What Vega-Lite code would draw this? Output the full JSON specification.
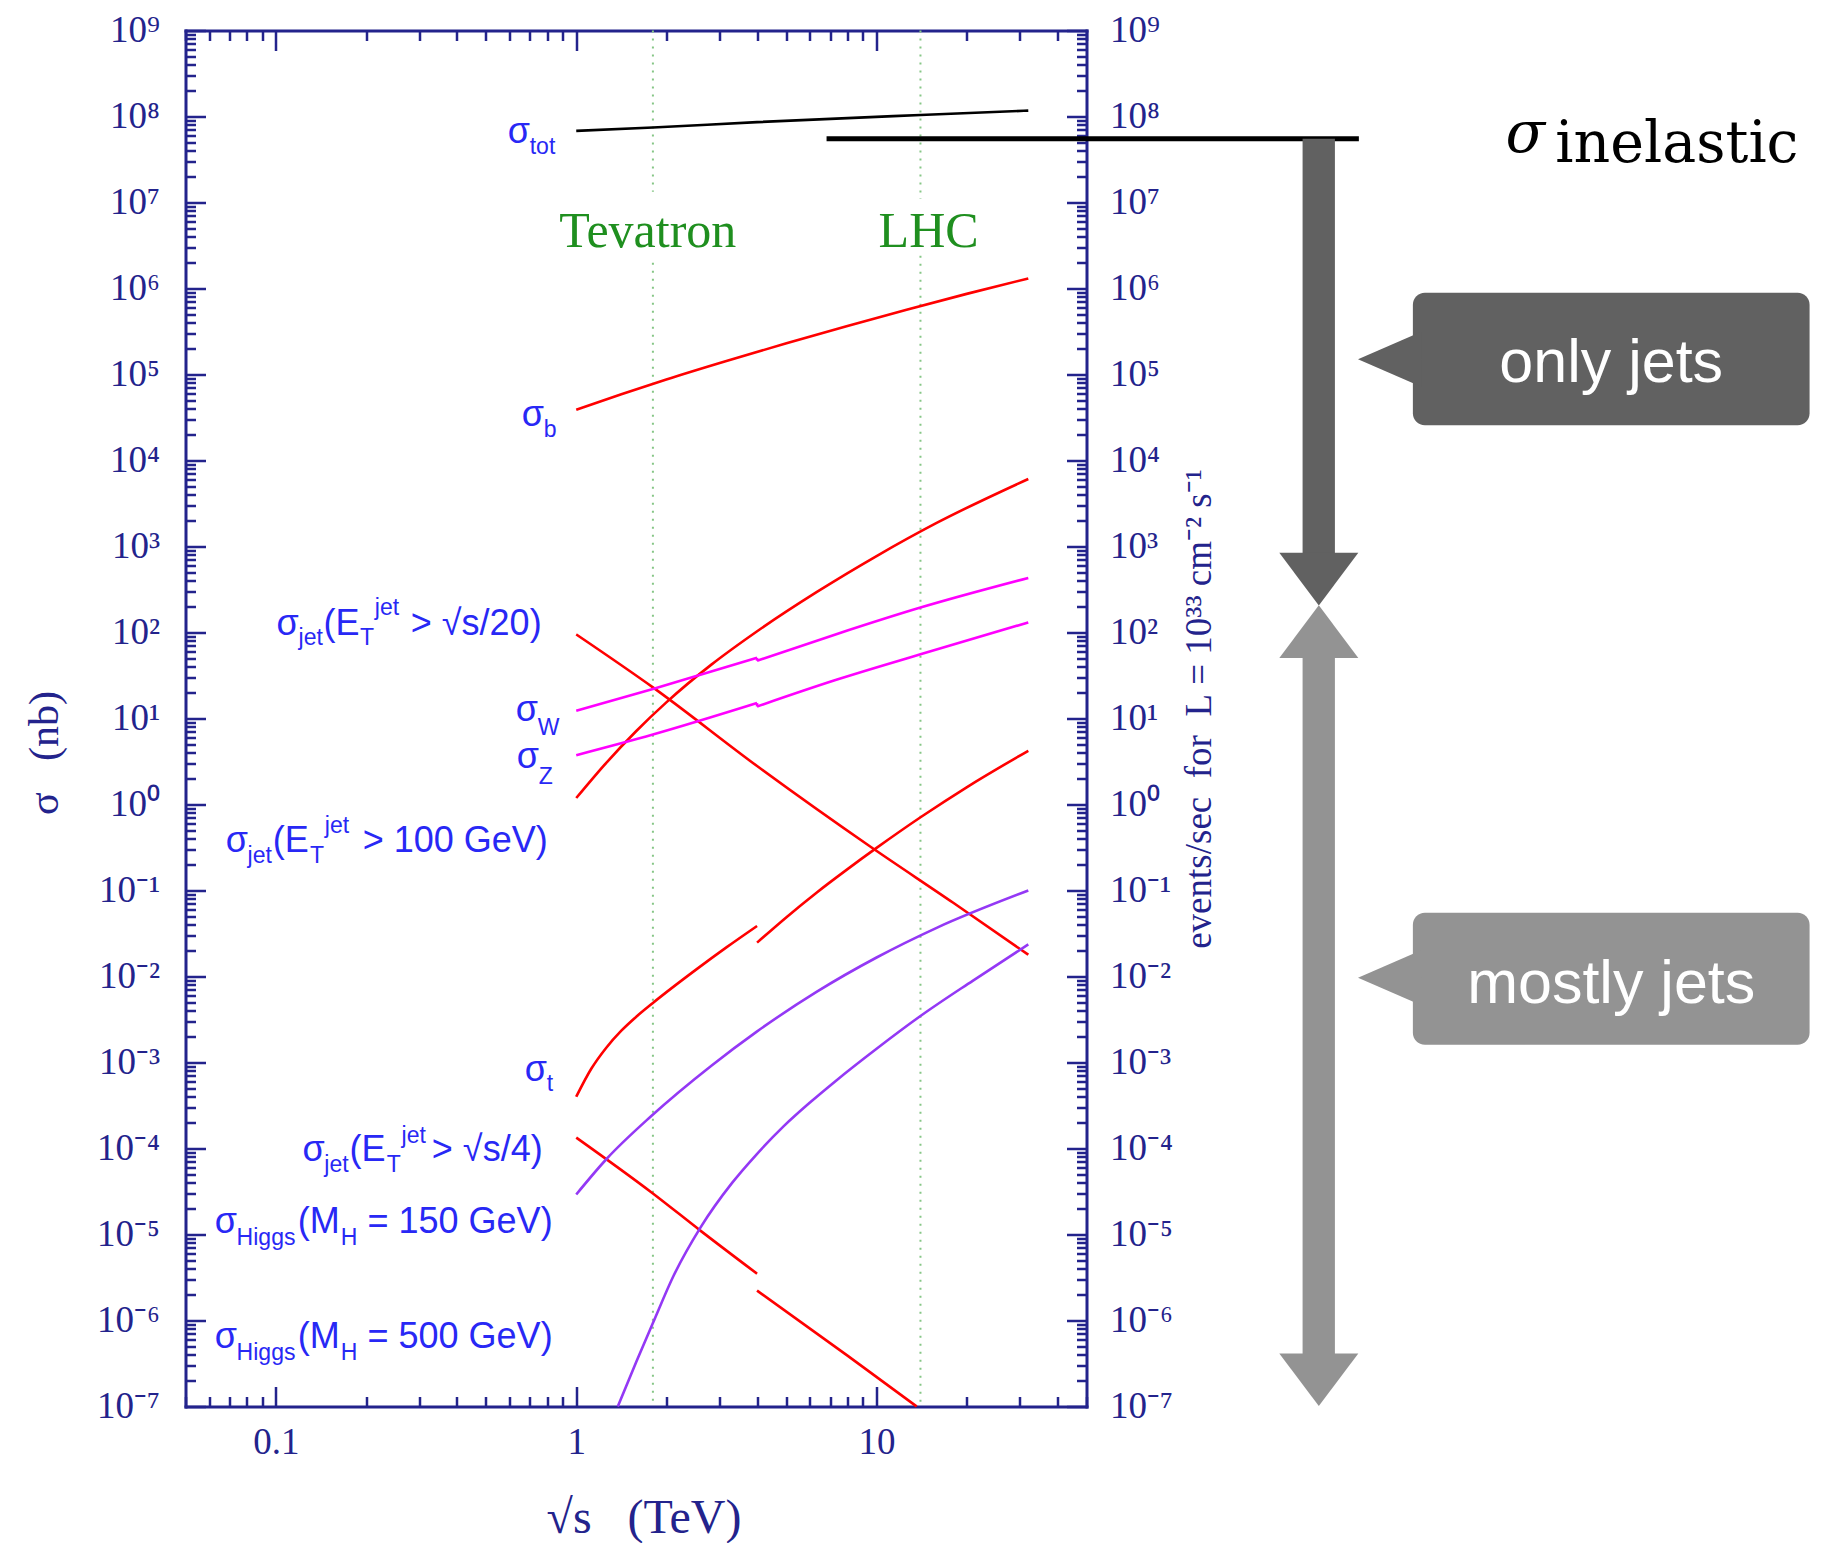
{
  "$schema": "https://vega.github.io/schema/vega-lite/v6.json",
  "width": 901,
  "height": 1376,
  "autosize": {"type": "none"},
  "padding": {"left": 185.5, "top": 30.5, "right": 739.5, "bottom": 136.5},
  "background": "#ffffff",
  "config": {
    "view": {"stroke": null},
    "axis": {
      "grid": false,
      "domainColor": "#23238c",
      "domainWidth": 3,
      "domainCap": "square",
      "tickColor": "#23238c",
      "tickWidth": 2.5,
      "labelColor": "#23238c",
      "labelFont": "Liberation Serif",
      "labelFontSize": 37,
      "labelOverlap": false,
      "labelFlush": false,
      "titleColor": "#23238c",
      "titleFont": "Liberation Serif",
      "titleFontWeight": "normal"
    }
  },
  "datasets": {
    "curves": [
      {"s": "tot", "k": "black", "x": 1, "y": 6.8e7, "i": 0},
      {"s": "tot", "k": "black", "x": 1.8, "y": 7.45e7, "i": 1},
      {"s": "tot", "k": "black", "x": 4, "y": 8.6e7, "i": 2},
      {"s": "tot", "k": "black", "x": 14, "y": 1.04e8, "i": 3},
      {"s": "tot", "k": "black", "x": 32, "y": 1.17e8, "i": 4},
      {"s": "b", "k": "red", "x": 1, "y": 3.89e4, "i": 5},
      {"s": "b", "k": "red", "x": 1.413, "y": 5.89e4, "i": 6},
      {"s": "b", "k": "red", "x": 1.995, "y": 8.76e4, "i": 7},
      {"s": "b", "k": "red", "x": 3.162, "y": 1.437e5, "i": 8},
      {"s": "b", "k": "red", "x": 5.012, "y": 2.304e5, "i": 9},
      {"s": "b", "k": "red", "x": 7.943, "y": 3.636e5, "i": 10},
      {"s": "b", "k": "red", "x": 12.59, "y": 5.655e5, "i": 11},
      {"s": "b", "k": "red", "x": 19.95, "y": 8.66e5, "i": 12},
      {"s": "b", "k": "red", "x": 32, "y": 1.31e6, "i": 13},
      {"s": "j20", "k": "red", "x": 1, "y": 95, "i": 14},
      {"s": "j20", "k": "red", "x": 1.8, "y": 23, "i": 15},
      {"s": "j20", "k": "red", "x": 4, "y": 2.8, "i": 16},
      {"s": "j20", "k": "red", "x": 9.6, "y": 0.318, "i": 17},
      {"s": "j20", "k": "red", "x": 18, "y": 0.072, "i": 18},
      {"s": "j20", "k": "red", "x": 32, "y": 0.0179, "i": 19},
      {"s": "j100", "k": "red", "x": 1, "y": 1.189, "i": 20},
      {"s": "j100", "k": "red", "x": 1.259, "y": 3.055, "i": 21},
      {"s": "j100", "k": "red", "x": 1.585, "y": 7.16, "i": 22},
      {"s": "j100", "k": "red", "x": 1.995, "y": 15.4, "i": 23},
      {"s": "j100", "k": "red", "x": 2.818, "y": 42.3, "i": 24},
      {"s": "j100", "k": "red", "x": 3.981, "y": 102.1, "i": 25},
      {"s": "j100", "k": "red", "x": 6.31, "y": 294.4, "i": 26},
      {"s": "j100", "k": "red", "x": 10, "y": 774.5, "i": 27},
      {"s": "j100", "k": "red", "x": 15.85, "y": 1879, "i": 28},
      {"s": "j100", "k": "red", "x": 32, "y": 6100, "i": 29},
      {"s": "W1", "k": "magenta", "x": 1, "y": 12.3, "i": 30},
      {"s": "W1", "k": "magenta", "x": 1.8, "y": 22, "i": 31},
      {"s": "W1", "k": "magenta", "x": 4, "y": 50.7, "i": 32},
      {"s": "W2", "k": "magenta", "x": 4, "y": 47, "i": 33},
      {"s": "W2", "k": "magenta", "x": 7.3, "y": 95, "i": 34},
      {"s": "W2", "k": "magenta", "x": 14, "y": 195, "i": 35},
      {"s": "W2", "k": "magenta", "x": 32, "y": 431, "i": 36},
      {"s": "Z1", "k": "magenta", "x": 1, "y": 3.74, "i": 37},
      {"s": "Z1", "k": "magenta", "x": 1.8, "y": 6.5, "i": 38},
      {"s": "Z1", "k": "magenta", "x": 4, "y": 15.1, "i": 39},
      {"s": "Z2", "k": "magenta", "x": 4, "y": 13.8, "i": 40},
      {"s": "Z2", "k": "magenta", "x": 7.3, "y": 28, "i": 41},
      {"s": "Z2", "k": "magenta", "x": 14, "y": 55.8, "i": 42},
      {"s": "Z2", "k": "magenta", "x": 32, "y": 131, "i": 43},
      {"s": "t1", "k": "red", "x": 1, "y": 4.0e-4, "i": 44},
      {"s": "t1", "k": "red", "x": 1.122, "y": 8.45e-4, "i": 45},
      {"s": "t1", "k": "red", "x": 1.259, "y": 1.486e-3, "i": 46},
      {"s": "t1", "k": "red", "x": 1.413, "y": 2.344e-3, "i": 47},
      {"s": "t1", "k": "red", "x": 1.585, "y": 3.41e-3, "i": 48},
      {"s": "t1", "k": "red", "x": 1.8, "y": 4.93e-3, "i": 49},
      {"s": "t1", "k": "red", "x": 2.512, "y": 0.0121, "i": 50},
      {"s": "t1", "k": "red", "x": 3.162, "y": 0.0218, "i": 51},
      {"s": "t1", "k": "red", "x": 4, "y": 0.0387, "i": 52},
      {"s": "t2", "k": "red", "x": 4, "y": 0.02477, "i": 53},
      {"s": "t2", "k": "red", "x": 5.012, "y": 0.049, "i": 54},
      {"s": "t2", "k": "red", "x": 6.31, "y": 0.0944, "i": 55},
      {"s": "t2", "k": "red", "x": 7.943, "y": 0.1738, "i": 56},
      {"s": "t2", "k": "red", "x": 10, "y": 0.3126, "i": 57},
      {"s": "t2", "k": "red", "x": 14.13, "y": 0.7244, "i": 58},
      {"s": "t2", "k": "red", "x": 19.95, "y": 1.585, "i": 59},
      {"s": "t2", "k": "red", "x": 32, "y": 4.217, "i": 60},
      {"s": "j4a", "k": "red", "x": 1, "y": 1.34e-4, "i": 61},
      {"s": "j4a", "k": "red", "x": 1.8, "y": 3.0e-5, "i": 62},
      {"s": "j4a", "k": "red", "x": 2.59, "y": 1.11e-5, "i": 63},
      {"s": "j4a", "k": "red", "x": 4, "y": 3.5e-6, "i": 64},
      {"s": "j4b", "k": "red", "x": 4, "y": 2.23e-6, "i": 65},
      {"s": "j4b", "k": "red", "x": 8, "y": 3.9e-7, "i": 66},
      {"s": "j4b", "k": "red", "x": 13.6, "y": 1e-7, "i": 67},
      {"s": "h150", "k": "purple", "x": 1, "y": 2.92e-5, "i": 68},
      {"s": "h150", "k": "purple", "x": 1.259, "y": 7.5e-5, "i": 69},
      {"s": "h150", "k": "purple", "x": 1.778, "y": 2.385e-4, "i": 70},
      {"s": "h150", "k": "purple", "x": 2.818, "y": 9.17e-4, "i": 71},
      {"s": "h150", "k": "purple", "x": 3.981, "y": 2.27e-3, "i": 72},
      {"s": "h150", "k": "purple", "x": 6.31, "y": 6.62e-3, "i": 73},
      {"s": "h150", "k": "purple", "x": 10, "y": 0.01663, "i": 74},
      {"s": "h150", "k": "purple", "x": 15.85, "y": 0.0368, "i": 75},
      {"s": "h150", "k": "purple", "x": 32, "y": 0.1, "i": 76},
      {"s": "h500", "k": "purple", "x": 1.375, "y": 1e-7, "i": 77},
      {"s": "h500", "k": "purple", "x": 1.585, "y": 3.31e-7, "i": 78},
      {"s": "h500", "k": "purple", "x": 1.8, "y": 9.33e-7, "i": 79},
      {"s": "h500", "k": "purple", "x": 2.109, "y": 3.31e-6, "i": 80},
      {"s": "h500", "k": "purple", "x": 2.591, "y": 1.202e-5, "i": 81},
      {"s": "h500", "k": "purple", "x": 3.303, "y": 3.98e-5, "i": 82},
      {"s": "h500", "k": "purple", "x": 3.981, "y": 8.51e-5, "i": 83},
      {"s": "h500", "k": "purple", "x": 4.909, "y": 1.82e-4, "i": 84},
      {"s": "h500", "k": "purple", "x": 6.026, "y": 3.47e-4, "i": 85},
      {"s": "h500", "k": "purple", "x": 7.278, "y": 6.03e-4, "i": 86},
      {"s": "h500", "k": "purple", "x": 10, "y": 1.445e-3, "i": 87},
      {"s": "h500", "k": "purple", "x": 14, "y": 3.47e-3, "i": 88},
      {"s": "h500", "k": "purple", "x": 20.89, "y": 8.91e-3, "i": 89},
      {"s": "h500", "k": "purple", "x": 32, "y": 0.0236, "i": 90}
    ],
    "steps": [
      {"x": 4, "y": 50.7, "y2": 47},
      {"x": 4, "y": 15.1, "y2": 13.8}
    ],
    "machines": [
      {"m": "Tevatron", "x": 1.8, "y": 1e9, "y2": 1.33e7},
      {"m": "Tevatron", "x": 1.8, "y": 1.99e6, "y2": 1e-7},
      {"m": "LHC", "x": 14, "y": 1e9, "y2": 1.10e7},
      {"m": "LHC", "x": 14, "y": 2.40e6, "y2": 1e-7}
    ],
    "mlabels": [
      {"t": "Tevatron", "x": 1.731, "y": 3.014e6},
      {"t": "LHC", "x": 14.9, "y": 3.014e6}
    ],
    "labels": [
      {"t": "σ", "p": "m", "x": 0.5916, "y": 4.866e7},
      {"t": "tot", "p": "sub", "x": 0.6999, "y": 3.654e7},
      {"t": "σ", "p": "m", "x": 0.6584, "y": 2.545e4},
      {"t": "b", "p": "sub", "x": 0.7788, "y": 1.856e4},
      {"t": "σ", "p": "m", "x": 0.1005, "y": 94.03},
      {"t": "jet", "p": "sub", "x": 0.1190, "y": 71.94},
      {"t": "(E", "p": "m", "x": 0.1440, "y": 94.03},
      {"t": "T", "p": "sub", "x": 0.1905, "y": 71.94},
      {"t": "jet", "p": "sup", "x": 0.2135, "y": 160.6},
      {"t": "> √s/20)", "p": "e", "x": 0.7670, "y": 94.03},
      {"t": "σ", "p": "m", "x": 0.6288, "y": 9.229},
      {"t": "W", "p": "sub", "x": 0.7438, "y": 6.464},
      {"t": "σ", "p": "m", "x": 0.6336, "y": 2.651},
      {"t": "Z", "p": "sub", "x": 0.7495, "y": 1.741},
      {"t": "σ", "p": "m", "x": 0.06805, "y": 0.2841},
      {"t": "jet", "p": "sub", "x": 0.08049, "y": 0.2083},
      {"t": "(E", "p": "m", "x": 0.09765, "y": 0.2841},
      {"t": "T", "p": "sub", "x": 0.12975, "y": 0.2083},
      {"t": "jet", "p": "sup", "x": 0.14555, "y": 0.4650},
      {"t": "> 100 GeV)", "p": "e", "x": 0.8040, "y": 0.2841},
      {"t": "σ", "p": "m", "x": 0.6736, "y": 6.127e-4},
      {"t": "t", "p": "sub", "x": 0.7969, "y": 4.688e-4},
      {"t": "σ", "p": "m", "x": 0.1225, "y": 7.062e-5},
      {"t": "jet", "p": "sub", "x": 0.1450, "y": 5.402e-5},
      {"t": "(E", "p": "m", "x": 0.17587, "y": 7.062e-5},
      {"t": "T", "p": "sub", "x": 0.23373, "y": 5.402e-5},
      {"t": "jet", "p": "sup", "x": 0.26216, "y": 1.156e-4},
      {"t": "> √s/4)", "p": "e", "x": 0.7729, "y": 7.062e-5},
      {"t": "σ", "p": "m", "x": 0.06255, "y": 1.038e-5},
      {"t": "Higgs", "p": "sub", "x": 0.07399, "y": 7.590e-6},
      {"t": "(M", "p": "m", "x": 0.11823, "y": 1.038e-5},
      {"t": "H", "p": "sub", "x": 0.16447, "y": 7.590e-6},
      {"t": "= 150 GeV)", "p": "e", "x": 0.8344, "y": 1.038e-5},
      {"t": "σ", "p": "m", "x": 0.06255, "y": 4.778e-7},
      {"t": "Higgs", "p": "sub", "x": 0.07399, "y": 3.491e-7},
      {"t": "(M", "p": "m", "x": 0.11823, "y": 4.778e-7},
      {"t": "H", "p": "sub", "x": 0.16447, "y": 3.491e-7},
      {"t": "= 500 GeV)", "p": "e", "x": 0.8344, "y": 4.778e-7}
    ],
    "shafts": [
      {"tone": "dark", "x": 262.1, "x2": 335.8, "y": 5.504e7, "y2": 800.8},
      {"tone": "light", "x": 262.1, "x2": 335.8, "y": 53.6, "y2": 3.886e-7}
    ],
    "heads": [
      {"tone": "dark", "dir": "down", "x": 296.8, "y": 417.8},
      {"tone": "light", "dir": "up", "x": 296.8, "y": 102.4},
      {"tone": "light", "dir": "down", "x": 296.8, "y": 2.045e-7}
    ],
    "boxes": [
      {"tone": "dark", "x": 610.5, "x2": 12781, "y": 8.913e5, "y2": 2.567e4},
      {"tone": "light", "x": 610.5, "x2": 12781, "y": 0.05504, "y2": 1.606e-3}
    ],
    "pointers": [
      {"tone": "dark", "x": 494.9, "y": 1.502e5},
      {"tone": "light", "x": 494.9, "y": 9.658e-3}
    ],
    "ctext": [
      {"t": "only jets", "x": 2793, "y": 8.29e4},
      {"t": "mostly jets", "x": 2793, "y": 4.984e-3}
    ]
  },
  "resolve": {"axis": {"x": "independent", "y": "independent"}},
  "layer": [
    {
      "data": {"name": "machines"},
      "mark": {"type": "rule", "color": "#86c686", "strokeWidth": 2, "strokeDash": [2, 6]},
      "encoding": {
        "x": {"field": "x", "type": "quantitative", "scale": {"type": "log", "domain": [0.05, 50], "nice": false},
          "axis": {"orient": "top", "values": [0.05,0.06,0.07,0.08,0.09,0.1,0.2,0.3,0.4,0.5,0.6,0.7,0.8,0.9,1,2,3,4,5,6,7,8,9,10,20,30,40,50],
            "labels": false, "title": null,
            "tickSize": {"condition": {"test": "abs(log(datum.value)/LN10 - round(log(datum.value)/LN10)) < 0.001", "value": -20}, "value": -10}}},
        "y": {"field": "y", "type": "quantitative", "scale": {"type": "log", "domain": [1e-7, 1e9], "nice": false},
          "axis": {"orient": "right",
            "values": [1e-7,2e-7,3e-7,4e-7,5e-7,6e-7,7e-7,8e-7,9e-7,1e-6,2e-6,3e-6,4e-6,5e-6,6e-6,7e-6,8e-6,9e-6,1e-5,2e-5,3e-5,4e-5,5e-5,6e-5,7e-5,8e-5,9e-5,1e-4,2e-4,3e-4,4e-4,5e-4,6e-4,7e-4,8e-4,9e-4,0.001,0.002,0.003,0.004,0.005,0.006,0.007,0.008,0.009,0.01,0.02,0.03,0.04,0.05,0.06,0.07,0.08,0.09,0.1,0.2,0.3,0.4,0.5,0.6,0.7,0.8,0.9,1,2,3,4,5,6,7,8,9,10,20,30,40,50,60,70,80,90,100,200,300,400,500,600,700,800,900,1000,2000,3000,4000,5000,6000,7000,8000,9000,1e4,2e4,3e4,4e4,5e4,6e4,7e4,8e4,9e4,1e5,2e5,3e5,4e5,5e5,6e5,7e5,8e5,9e5,1e6,2e6,3e6,4e6,5e6,6e6,7e6,8e6,9e6,1e7,2e7,3e7,4e7,5e7,6e7,7e7,8e7,9e7,1e8,2e8,3e8,4e8,5e8,6e8,7e8,8e8,9e8,1e9],
            "labelExpr": "abs(log(datum.value)/LN10 - round(log(datum.value)/LN10)) < 0.001 ? '10' + ['⁻⁷','⁻⁶','⁻⁵','⁻⁴','⁻³','⁻²','⁻¹','⁰','¹','²','³','⁴','⁵','⁶','⁷','⁸','⁹'][round(log(datum.value)/LN10) + 7] : ''",
            "tickSize": {"condition": {"test": "abs(log(datum.value)/LN10 - round(log(datum.value)/LN10)) < 0.001", "value": -20}, "value": -10},
            "labelPadding": 43,
            "title": "events/sec\u00a0\u00a0for\u00a0\u00a0L\u00a0=\u00a010³³\u00a0cm⁻²\u00a0s⁻¹",
            "titleFontSize": 37, "titleAngle": 270, "titleX": 124, "titleY": 678,
            "titleAlign": "center", "titleBaseline": "alphabetic"}},
        "y2": {"field": "y2"}
      }
    },
    {
      "data": {"name": "curves"},
      "mark": {"type": "line", "strokeWidth": 2.6, "interpolate": "monotone"},
      "encoding": {
        "x": {"field": "x", "type": "quantitative", "scale": {"type": "log", "domain": [0.05, 50], "nice": false},
          "axis": {"orient": "bottom", "values": [0.05,0.06,0.07,0.08,0.09,0.1,0.2,0.3,0.4,0.5,0.6,0.7,0.8,0.9,1,2,3,4,5,6,7,8,9,10,20,30,40,50],
            "labelExpr": "datum.value == 0.1 ? '0.1' : datum.value == 1 ? '1' : datum.value == 10 ? '10' : ''",
            "tickSize": {"condition": {"test": "abs(log(datum.value)/LN10 - round(log(datum.value)/LN10)) < 0.001", "value": -20}, "value": -10},
            "labelPadding": 38,
            "title": "√s\u00a0\u00a0\u00a0(TeV)", "titleFontSize": 48, "titleX": 458, "titleY": 126,
            "titleAlign": "center", "titleBaseline": "alphabetic"}},
        "y": {"field": "y", "type": "quantitative", "scale": {"type": "log", "domain": [1e-7, 1e9], "nice": false},
          "axis": {"orient": "left",
            "values": [1e-7,2e-7,3e-7,4e-7,5e-7,6e-7,7e-7,8e-7,9e-7,1e-6,2e-6,3e-6,4e-6,5e-6,6e-6,7e-6,8e-6,9e-6,1e-5,2e-5,3e-5,4e-5,5e-5,6e-5,7e-5,8e-5,9e-5,1e-4,2e-4,3e-4,4e-4,5e-4,6e-4,7e-4,8e-4,9e-4,0.001,0.002,0.003,0.004,0.005,0.006,0.007,0.008,0.009,0.01,0.02,0.03,0.04,0.05,0.06,0.07,0.08,0.09,0.1,0.2,0.3,0.4,0.5,0.6,0.7,0.8,0.9,1,2,3,4,5,6,7,8,9,10,20,30,40,50,60,70,80,90,100,200,300,400,500,600,700,800,900,1000,2000,3000,4000,5000,6000,7000,8000,9000,1e4,2e4,3e4,4e4,5e4,6e4,7e4,8e4,9e4,1e5,2e5,3e5,4e5,5e5,6e5,7e5,8e5,9e5,1e6,2e6,3e6,4e6,5e6,6e6,7e6,8e6,9e6,1e7,2e7,3e7,4e7,5e7,6e7,7e7,8e7,9e7,1e8,2e8,3e8,4e8,5e8,6e8,7e8,8e8,9e8,1e9],
            "labelExpr": "abs(log(datum.value)/LN10 - round(log(datum.value)/LN10)) < 0.001 ? '10' + ['⁻⁷','⁻⁶','⁻⁵','⁻⁴','⁻³','⁻²','⁻¹','⁰','¹','²','³','⁴','⁵','⁶','⁷','⁸','⁹'][round(log(datum.value)/LN10) + 7] : ''",
            "tickSize": {"condition": {"test": "abs(log(datum.value)/LN10 - round(log(datum.value)/LN10)) < 0.001", "value": -20}, "value": -10},
            "labelPadding": 46,
            "title": "σ\u00a0\u00a0\u00a0(nb)", "titleFontSize": 42, "titleAngle": 270, "titleX": -128, "titleY": 722,
            "titleAlign": "center", "titleBaseline": "alphabetic"}},
        "color": {"field": "k", "type": "nominal", "scale": {"domain": ["black", "red", "magenta", "purple"], "range": ["#000000", "#ff0000", "#ff00ff", "#9438f5"]}, "legend": null},
        "detail": {"field": "s"},
        "order": {"field": "i"}
      }
    },
    {
      "data": {"name": "steps"},
      "mark": {"type": "rule", "color": "#ff00ff", "strokeWidth": 2.6},
      "encoding": {
        "x": {"field": "x", "type": "quantitative", "scale": {"type": "log", "domain": [0.05, 50], "nice": false}, "axis": null},
        "y": {"field": "y", "type": "quantitative", "scale": {"type": "log", "domain": [1e-7, 1e9], "nice": false}, "axis": null},
        "y2": {"field": "y2"}
      }
    },
    {
      "data": {"values": [{"x": 6.815, "x2": 403.5, "y": 5.504e7}]},
      "mark": {"type": "rule", "color": "#000000", "strokeWidth": 5},
      "encoding": {
        "x": {"field": "x", "type": "quantitative", "scale": {"type": "log", "domain": [0.05, 50], "nice": false}, "axis": null},
        "x2": {"field": "x2"},
        "y": {"field": "y", "type": "quantitative", "scale": {"type": "log", "domain": [1e-7, 1e9], "nice": false}, "axis": null}
      }
    },
    {
      "data": {"name": "shafts"},
      "mark": {"type": "rect"},
      "encoding": {
        "x": {"field": "x", "type": "quantitative", "scale": {"type": "log", "domain": [0.05, 50], "nice": false}, "axis": null},
        "x2": {"field": "x2"},
        "y": {"field": "y", "type": "quantitative", "scale": {"type": "log", "domain": [1e-7, 1e9], "nice": false}, "axis": null},
        "y2": {"field": "y2"},
        "fill": {"field": "tone", "type": "nominal", "scale": {"domain": ["dark", "light"], "range": ["#616161", "#939393"]}, "legend": null}
      }
    },
    {
      "data": {"name": "heads"},
      "mark": {"type": "point", "filled": true, "size": 6241, "opacity": 1, "strokeWidth": 0},
      "encoding": {
        "x": {"field": "x", "type": "quantitative", "scale": {"type": "log", "domain": [0.05, 50], "nice": false}, "axis": null},
        "y": {"field": "y", "type": "quantitative", "scale": {"type": "log", "domain": [1e-7, 1e9], "nice": false}, "axis": null},
        "shape": {"field": "dir", "type": "nominal", "scale": {"domain": ["down", "up"], "range": ["M-1,-0.666L1,-0.666L0,0.666Z", "M-1,0.666L1,0.666L0,-0.666Z"]}, "legend": null},
        "fill": {"field": "tone", "type": "nominal", "scale": {"domain": ["dark", "light"], "range": ["#616161", "#939393"]}, "legend": null}
      }
    },
    {
      "data": {"name": "boxes"},
      "mark": {"type": "rect", "cornerRadius": 12},
      "encoding": {
        "x": {"field": "x", "type": "quantitative", "scale": {"type": "log", "domain": [0.05, 50], "nice": false}, "axis": null},
        "x2": {"field": "x2"},
        "y": {"field": "y", "type": "quantitative", "scale": {"type": "log", "domain": [1e-7, 1e9], "nice": false}, "axis": null},
        "y2": {"field": "y2"},
        "fill": {"field": "tone", "type": "nominal", "scale": {"domain": ["dark", "light"], "range": ["#616161", "#939393"]}, "legend": null}
      }
    },
    {
      "data": {"name": "pointers"},
      "mark": {"type": "point", "filled": true, "size": 3025, "opacity": 1, "strokeWidth": 0, "shape": "M1.3,-1L-1,0L1.3,1Z"},
      "encoding": {
        "x": {"field": "x", "type": "quantitative", "scale": {"type": "log", "domain": [0.05, 50], "nice": false}, "axis": null},
        "y": {"field": "y", "type": "quantitative", "scale": {"type": "log", "domain": [1e-7, 1e9], "nice": false}, "axis": null},
        "fill": {"field": "tone", "type": "nominal", "scale": {"domain": ["dark", "light"], "range": ["#616161", "#939393"]}, "legend": null}
      }
    },
    {
      "data": {"name": "ctext"},
      "mark": {"type": "text", "color": "#ffffff", "font": "Liberation Sans", "fontSize": 61, "align": "center", "baseline": "alphabetic"},
      "encoding": {
        "x": {"field": "x", "type": "quantitative", "scale": {"type": "log", "domain": [0.05, 50], "nice": false}, "axis": null},
        "y": {"field": "y", "type": "quantitative", "scale": {"type": "log", "domain": [1e-7, 1e9], "nice": false}, "axis": null},
        "text": {"field": "t"}
      }
    },
    {
      "data": {"values": [{"t": "σ", "x": 1242.6, "y": 3.917e7}]},
      "mark": {"type": "text", "color": "#000000", "font": "DejaVu Serif", "fontStyle": "italic", "fontSize": 58, "align": "left", "baseline": "alphabetic"},
      "encoding": {
        "x": {"field": "x", "type": "quantitative", "scale": {"type": "log", "domain": [0.05, 50], "nice": false}, "axis": null},
        "y": {"field": "y", "type": "quantitative", "scale": {"type": "log", "domain": [1e-7, 1e9], "nice": false}, "axis": null},
        "text": {"field": "t"}
      }
    },
    {
      "data": {"values": [{"t": "inelastic", "x": 1820, "y": 2.997e7}]},
      "mark": {"type": "text", "color": "#000000", "font": "DejaVu Serif", "fontSize": 57, "align": "left", "baseline": "alphabetic"},
      "encoding": {
        "x": {"field": "x", "type": "quantitative", "scale": {"type": "log", "domain": [0.05, 50], "nice": false}, "axis": null},
        "y": {"field": "y", "type": "quantitative", "scale": {"type": "log", "domain": [1e-7, 1e9], "nice": false}, "axis": null},
        "text": {"field": "t"}
      }
    },
    {
      "data": {"name": "mlabels"},
      "mark": {"type": "text", "color": "#1f8f1f", "font": "Liberation Serif", "fontSize": 50, "align": "center", "baseline": "alphabetic"},
      "encoding": {
        "x": {"field": "x", "type": "quantitative", "scale": {"type": "log", "domain": [0.05, 50], "nice": false}, "axis": null},
        "y": {"field": "y", "type": "quantitative", "scale": {"type": "log", "domain": [1e-7, 1e9], "nice": false}, "axis": null},
        "text": {"field": "t"}
      }
    },
    {
      "data": {"name": "labels"},
      "transform": [{"filter": "datum.p == 'm'"}],
      "mark": {"type": "text", "color": "#2828f5", "font": "Liberation Sans", "fontSize": 36, "align": "left", "baseline": "alphabetic"},
      "encoding": {
        "x": {"field": "x", "type": "quantitative", "scale": {"type": "log", "domain": [0.05, 50], "nice": false}, "axis": null},
        "y": {"field": "y", "type": "quantitative", "scale": {"type": "log", "domain": [1e-7, 1e9], "nice": false}, "axis": null},
        "text": {"field": "t"}
      }
    },
    {
      "data": {"name": "labels"},
      "transform": [{"filter": "datum.p == 'e'"}],
      "mark": {"type": "text", "color": "#2828f5", "font": "Liberation Sans", "fontSize": 36, "align": "right", "baseline": "alphabetic"},
      "encoding": {
        "x": {"field": "x", "type": "quantitative", "scale": {"type": "log", "domain": [0.05, 50], "nice": false}, "axis": null},
        "y": {"field": "y", "type": "quantitative", "scale": {"type": "log", "domain": [1e-7, 1e9], "nice": false}, "axis": null},
        "text": {"field": "t"}
      }
    },
    {
      "data": {"name": "labels"},
      "transform": [{"filter": "datum.p == 'sub' || datum.p == 'sup'"}],
      "mark": {"type": "text", "color": "#2828f5", "font": "Liberation Sans", "fontSize": 23, "align": "left", "baseline": "alphabetic"},
      "encoding": {
        "x": {"field": "x", "type": "quantitative", "scale": {"type": "log", "domain": [0.05, 50], "nice": false}, "axis": null},
        "y": {"field": "y", "type": "quantitative", "scale": {"type": "log", "domain": [1e-7, 1e9], "nice": false}, "axis": null},
        "text": {"field": "t"}
      }
    }
  ]
}
